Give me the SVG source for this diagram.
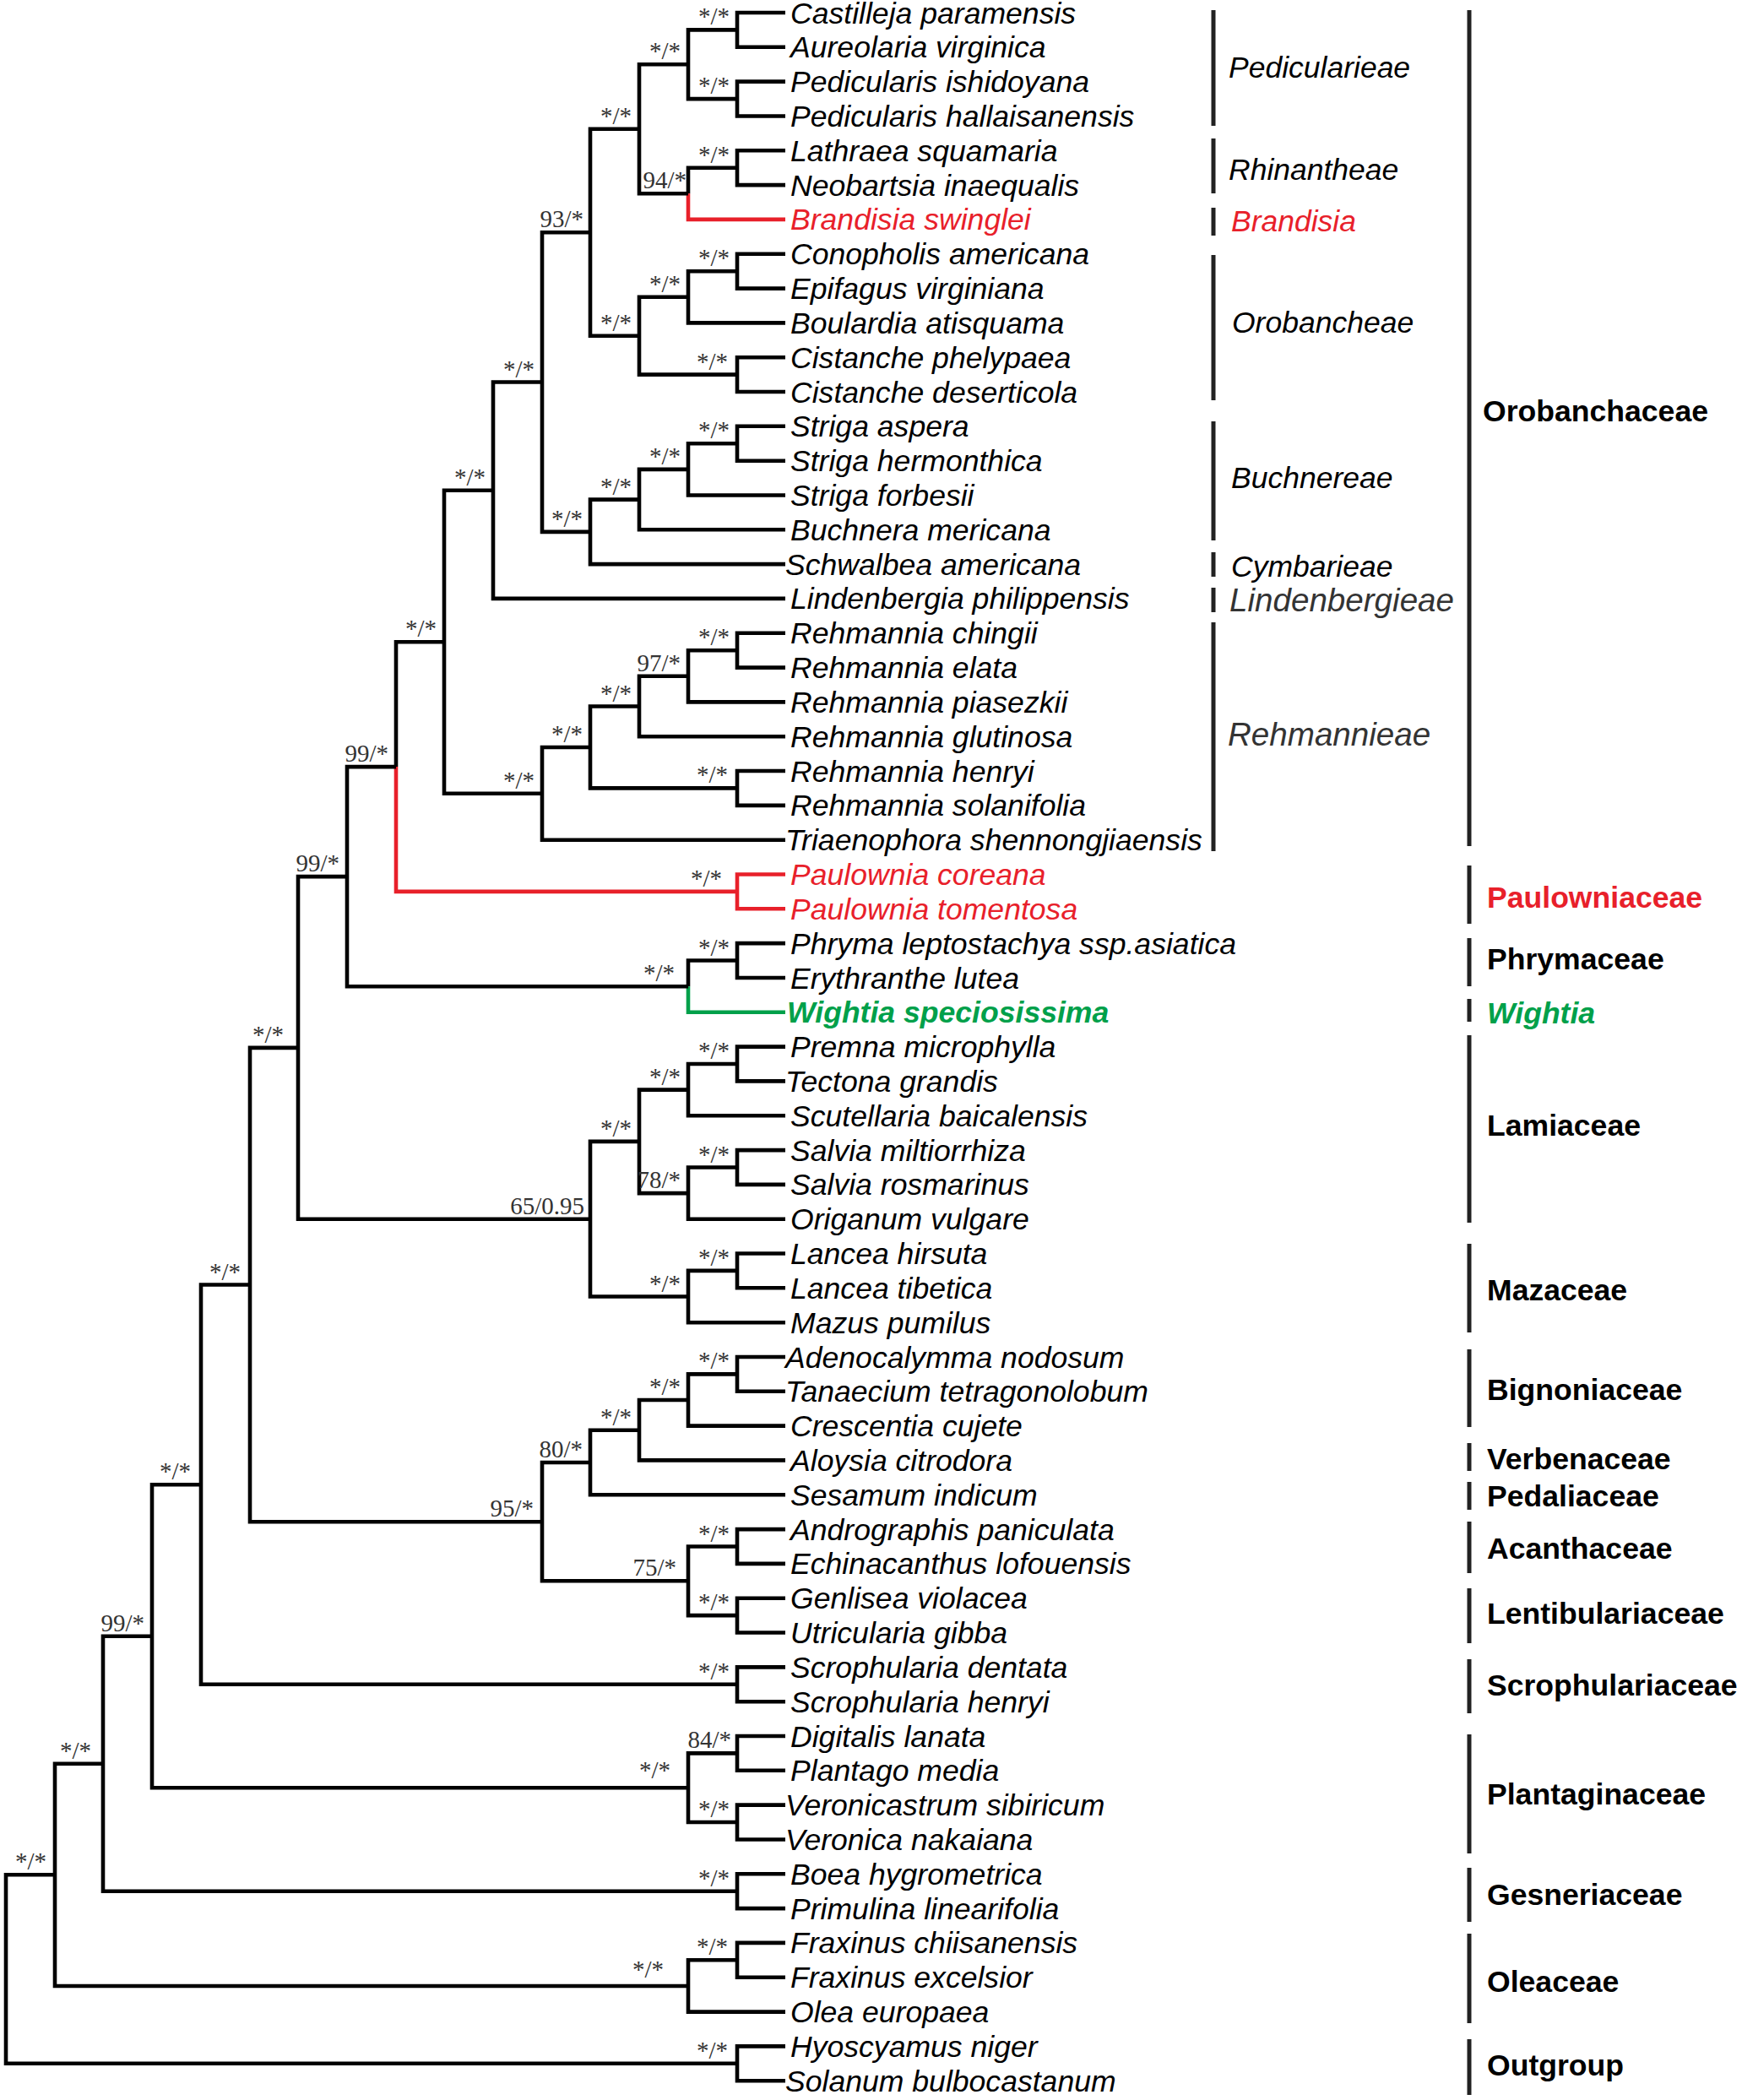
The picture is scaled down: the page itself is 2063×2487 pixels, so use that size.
<svg xmlns="http://www.w3.org/2000/svg" width="2063" height="2487" viewBox="0 0 2063 2487">
<style>
.br{fill:none;stroke:#000;stroke-width:4.6;stroke-linejoin:miter;stroke-linecap:butt}
.red{stroke:#e8202a}
.grn{stroke:#00a04a}
.lf{font-family:"Liberation Sans",Arial,sans-serif;font-style:italic;font-size:35.6px;fill:#000}
.lf.r{fill:#e8202a}
.lf.g{fill:#00a04a;font-weight:bold}
.sp{font-family:"Liberation Serif","Times New Roman",serif;font-size:29px;fill:#333;text-anchor:end}
.bar{fill:#222}
.tr{font-family:"Liberation Sans",Arial,sans-serif;font-style:italic;font-size:35.5px;fill:#000}
.tr.gy{fill:#333;font-size:38.6px}
.fm{font-family:"Liberation Sans",Arial,sans-serif;font-weight:bold;font-size:35.6px;fill:#000}
</style>
<rect width="2063" height="2487" fill="#fff"/>
<g id="connectors">
<path class="br" d="M930 15 H873 V55.8 H930"/>
<path class="br" d="M930 96.6 H873 V137.5 H930"/>
<path class="br" d="M873 35.4 H815 V117.1 H873"/>
<path class="br" d="M930 178.3 H873 V219.1 H930"/>
<path class="br" d="M873 198.7 H815 V229.3"/>
<path class="br red" d="M815 229.3 V259.9 H930"/>
<path class="br" d="M815 76.2 H757 V229.3 H815"/>
<path class="br" d="M930 300.7 H873 V341.6 H930"/>
<path class="br" d="M873 321.2 H815 V382.4 H930"/>
<path class="br" d="M930 423.2 H873 V464 H930"/>
<path class="br" d="M815 351.8 H757 V443.6 H873"/>
<path class="br" d="M757 152.8 H699 V397.7 H757"/>
<path class="br" d="M930 504.8 H873 V545.7 H930"/>
<path class="br" d="M873 525.3 H815 V586.5 H930"/>
<path class="br" d="M815 555.9 H757 V627.3 H930"/>
<path class="br" d="M757 591.6 H699 V668.1 H930"/>
<path class="br" d="M699 275.2 H642 V629.9 H699"/>
<path class="br" d="M642 452.5 H584 V708.9 H930"/>
<path class="br" d="M930 749.8 H873 V790.6 H930"/>
<path class="br" d="M873 770.2 H815 V831.4 H930"/>
<path class="br" d="M815 800.8 H757 V872.2 H930"/>
<path class="br" d="M930 913 H873 V953.9 H930"/>
<path class="br" d="M757 836.5 H699 V933.4 H873"/>
<path class="br" d="M699 885 H642 V994.7 H930"/>
<path class="br" d="M584 580.7 H526 V939.8 H642"/>
<path class="br red" d="M930 1035.5 H873 V1076.3 H930"/>
<path class="br" d="M526 760.3 H469 V908.1"/>
<path class="br red" d="M469 908.1 V1055.9 H873"/>
<path class="br" d="M930 1117.1 H873 V1158 H930"/>
<path class="br" d="M873 1137.5 H815 V1168.2"/>
<path class="br grn" d="M815 1168.2 V1198.8 H930"/>
<path class="br" d="M469 908.1 H411 V1168.2 H815"/>
<path class="br" d="M930 1239.6 H873 V1280.4 H930"/>
<path class="br" d="M873 1260 H815 V1321.2 H930"/>
<path class="br" d="M930 1362.1 H873 V1402.9 H930"/>
<path class="br" d="M873 1382.5 H815 V1443.7 H930"/>
<path class="br" d="M815 1290.6 H757 V1413.1 H815"/>
<path class="br" d="M930 1484.5 H873 V1525.3 H930"/>
<path class="br" d="M873 1504.9 H815 V1566.2 H930"/>
<path class="br" d="M757 1351.9 H699 V1535.5 H815"/>
<path class="br" d="M411 1038.1 H353 V1443.7 H699"/>
<path class="br" d="M930 1607 H873 V1647.8 H930"/>
<path class="br" d="M873 1627.4 H815 V1688.6 H930"/>
<path class="br" d="M815 1658 H757 V1729.4 H930"/>
<path class="br" d="M757 1693.7 H699 V1770.3 H930"/>
<path class="br" d="M930 1811.1 H873 V1851.9 H930"/>
<path class="br" d="M930 1892.7 H873 V1933.5 H930"/>
<path class="br" d="M873 1831.5 H815 V1913.1 H873"/>
<path class="br" d="M699 1732 H642 V1872.3 H815"/>
<path class="br" d="M353 1240.9 H296 V1802.2 H642"/>
<path class="br" d="M930 1974.4 H873 V2015.2 H930"/>
<path class="br" d="M296 1521.5 H238 V1994.8 H873"/>
<path class="br" d="M930 2056 H873 V2096.8 H930"/>
<path class="br" d="M930 2137.6 H873 V2178.5 H930"/>
<path class="br" d="M873 2076.4 H815 V2158 H873"/>
<path class="br" d="M238 1758.2 H180 V2117.2 H815"/>
<path class="br" d="M930 2219.3 H873 V2260.1 H930"/>
<path class="br" d="M180 1937.7 H122 V2239.7 H873"/>
<path class="br" d="M930 2300.9 H873 V2341.7 H930"/>
<path class="br" d="M873 2321.3 H815 V2382.6 H930"/>
<path class="br" d="M122 2088.7 H65 V2352 H815"/>
<path class="br" d="M930 2423.4 H873 V2464.2 H930"/>
<path class="br" d="M65 2220.3 H7 V2443.8 H873"/>
</g>
<g id="support">
<text class="sp" x="864" y="29.4">*/*</text>
<text class="sp" x="864" y="111.1">*/*</text>
<text class="sp" x="806" y="70.2">*/*</text>
<text class="sp" x="864" y="192.7">*/*</text>
<text class="sp" x="813" y="223.3">94/*</text>
<text class="sp" x="748" y="146.8">*/*</text>
<text class="sp" x="864" y="315.2">*/*</text>
<text class="sp" x="806" y="345.8">*/*</text>
<text class="sp" x="862" y="437.6">*/*</text>
<text class="sp" x="748" y="391.7">*/*</text>
<text class="sp" x="691" y="269.2">93/*</text>
<text class="sp" x="864" y="519.3">*/*</text>
<text class="sp" x="806" y="549.9">*/*</text>
<text class="sp" x="748" y="585.6">*/*</text>
<text class="sp" x="690" y="623.9">*/*</text>
<text class="sp" x="633" y="446.5">*/*</text>
<text class="sp" x="575" y="574.7">*/*</text>
<text class="sp" x="864" y="764.2">*/*</text>
<text class="sp" x="806" y="794.8">97/*</text>
<text class="sp" x="748" y="830.5">*/*</text>
<text class="sp" x="862" y="927.4">*/*</text>
<text class="sp" x="690" y="879">*/*</text>
<text class="sp" x="633" y="933.8">*/*</text>
<text class="sp" x="517" y="754.3">*/*</text>
<text class="sp" x="855" y="1049.9">*/*</text>
<text class="sp" x="460" y="902.1">99/*</text>
<text class="sp" x="864" y="1131.5">*/*</text>
<text class="sp" x="799" y="1162.2">*/*</text>
<text class="sp" x="402" y="1032.1">99/*</text>
<text class="sp" x="864" y="1254">*/*</text>
<text class="sp" x="806" y="1284.6">*/*</text>
<text class="sp" x="864" y="1376.5">*/*</text>
<text class="sp" x="806" y="1407.1">78/*</text>
<text class="sp" x="748" y="1345.9">*/*</text>
<text class="sp" x="864" y="1498.9">*/*</text>
<text class="sp" x="806" y="1529.5">*/*</text>
<text class="sp" x="692" y="1437.7">65/0.95</text>
<text class="sp" x="336" y="1234.9">*/*</text>
<text class="sp" x="864" y="1621.4">*/*</text>
<text class="sp" x="806" y="1652">*/*</text>
<text class="sp" x="748" y="1687.7">*/*</text>
<text class="sp" x="690" y="1726">80/*</text>
<text class="sp" x="864" y="1825.5">*/*</text>
<text class="sp" x="864" y="1907.1">*/*</text>
<text class="sp" x="801" y="1866.3">75/*</text>
<text class="sp" x="632" y="1796.2">95/*</text>
<text class="sp" x="285" y="1515.5">*/*</text>
<text class="sp" x="864" y="1988.8">*/*</text>
<text class="sp" x="226" y="1752.2">*/*</text>
<text class="sp" x="866" y="2070.4">84/*</text>
<text class="sp" x="864" y="2152">*/*</text>
<text class="sp" x="794" y="2106">*/*</text>
<text class="sp" x="171" y="1931.7">99/*</text>
<text class="sp" x="864" y="2233.7">*/*</text>
<text class="sp" x="108" y="2082.7">*/*</text>
<text class="sp" x="862" y="2315.3">*/*</text>
<text class="sp" x="786" y="2342">*/*</text>
<text class="sp" x="55" y="2214.3">*/*</text>
<text class="sp" x="862" y="2437.8">*/*</text>
</g>
<g id="leaves">
<g id="leaf-01"><text class="lf" x="936" y="27.5">Castilleja paramensis</text></g>
<g id="leaf-02"><text class="lf" x="936" y="68.3">Aureolaria virginica</text></g>
<g id="leaf-03"><text class="lf" x="936" y="109.1">Pedicularis ishidoyana</text></g>
<g id="leaf-04"><text class="lf" x="936" y="150">Pedicularis hallaisanensis</text></g>
<g id="leaf-05"><text class="lf" x="936" y="190.8">Lathraea squamaria</text></g>
<g id="leaf-06"><text class="lf" x="936" y="231.6">Neobartsia inaequalis</text></g>
<g id="leaf-07"><text class="lf r" x="936" y="272.4">Brandisia swinglei</text></g>
<g id="leaf-08"><text class="lf" x="936" y="313.2">Conopholis americana</text></g>
<g id="leaf-09"><text class="lf" x="936" y="354.1">Epifagus virginiana</text></g>
<g id="leaf-10"><text class="lf" x="936" y="394.9">Boulardia atisquama</text></g>
<g id="leaf-11"><text class="lf" x="936" y="435.7">Cistanche phelypaea</text></g>
<g id="leaf-12"><text class="lf" x="936" y="476.5">Cistanche deserticola</text></g>
<g id="leaf-13"><text class="lf" x="936" y="517.3">Striga aspera</text></g>
<g id="leaf-14"><text class="lf" x="936" y="558.2">Striga hermonthica</text></g>
<g id="leaf-15"><text class="lf" x="936" y="599">Striga forbesii</text></g>
<g id="leaf-16"><text class="lf" x="936" y="639.8">Buchnera mericana</text></g>
<g id="leaf-17"><text class="lf" x="930" y="680.6">Schwalbea americana</text></g>
<g id="leaf-18"><text class="lf" x="936" y="721.4">Lindenbergia philippensis</text></g>
<g id="leaf-19"><text class="lf" x="936" y="762.3">Rehmannia chingii</text></g>
<g id="leaf-20"><text class="lf" x="936" y="803.1">Rehmannia elata</text></g>
<g id="leaf-21"><text class="lf" x="936" y="843.9">Rehmannia piasezkii</text></g>
<g id="leaf-22"><text class="lf" x="936" y="884.7">Rehmannia glutinosa</text></g>
<g id="leaf-23"><text class="lf" x="936" y="925.5">Rehmannia henryi</text></g>
<g id="leaf-24"><text class="lf" x="936" y="966.4">Rehmannia solanifolia</text></g>
<g id="leaf-25"><text class="lf" x="930" y="1007.2">Triaenophora shennongjiaensis</text></g>
<g id="leaf-26"><text class="lf r" x="936" y="1048">Paulownia coreana</text></g>
<g id="leaf-27"><text class="lf r" x="936" y="1088.8">Paulownia tomentosa</text></g>
<g id="leaf-28"><text class="lf" x="936" y="1129.6">Phryma leptostachya ssp.asiatica</text></g>
<g id="leaf-29"><text class="lf" x="936" y="1170.5">Erythranthe lutea</text></g>
<g id="leaf-30"><text class="lf g" x="932" y="1211.3">Wightia speciosissima</text></g>
<g id="leaf-31"><text class="lf" x="936" y="1252.1">Premna microphylla</text></g>
<g id="leaf-32"><text class="lf" x="930" y="1292.9">Tectona grandis</text></g>
<g id="leaf-33"><text class="lf" x="936" y="1333.7">Scutellaria baicalensis</text></g>
<g id="leaf-34"><text class="lf" x="936" y="1374.6">Salvia miltiorrhiza</text></g>
<g id="leaf-35"><text class="lf" x="936" y="1415.4">Salvia rosmarinus</text></g>
<g id="leaf-36"><text class="lf" x="936" y="1456.2">Origanum vulgare</text></g>
<g id="leaf-37"><text class="lf" x="936" y="1497">Lancea hirsuta</text></g>
<g id="leaf-38"><text class="lf" x="936" y="1537.8">Lancea tibetica</text></g>
<g id="leaf-39"><text class="lf" x="936" y="1578.7">Mazus pumilus</text></g>
<g id="leaf-40"><text class="lf" x="930" y="1619.5">Adenocalymma nodosum</text></g>
<g id="leaf-41"><text class="lf" x="930" y="1660.3">Tanaecium tetragonolobum</text></g>
<g id="leaf-42"><text class="lf" x="936" y="1701.1">Crescentia cujete</text></g>
<g id="leaf-43"><text class="lf" x="936" y="1741.9">Aloysia citrodora</text></g>
<g id="leaf-44"><text class="lf" x="936" y="1782.8">Sesamum indicum</text></g>
<g id="leaf-45"><text class="lf" x="936" y="1823.6">Andrographis paniculata</text></g>
<g id="leaf-46"><text class="lf" x="936" y="1864.4">Echinacanthus lofouensis</text></g>
<g id="leaf-47"><text class="lf" x="936" y="1905.2">Genlisea violacea</text></g>
<g id="leaf-48"><text class="lf" x="936" y="1946">Utricularia gibba</text></g>
<g id="leaf-49"><text class="lf" x="936" y="1986.9">Scrophularia dentata</text></g>
<g id="leaf-50"><text class="lf" x="936" y="2027.7">Scrophularia henryi</text></g>
<g id="leaf-51"><text class="lf" x="936" y="2068.5">Digitalis lanata</text></g>
<g id="leaf-52"><text class="lf" x="936" y="2109.3">Plantago media</text></g>
<g id="leaf-53"><text class="lf" x="930" y="2150.1">Veronicastrum sibiricum</text></g>
<g id="leaf-54"><text class="lf" x="930" y="2191">Veronica nakaiana</text></g>
<g id="leaf-55"><text class="lf" x="936" y="2231.8">Boea hygrometrica</text></g>
<g id="leaf-56"><text class="lf" x="936" y="2272.6">Primulina linearifolia</text></g>
<g id="leaf-57"><text class="lf" x="936" y="2313.4">Fraxinus chiisanensis</text></g>
<g id="leaf-58"><text class="lf" x="936" y="2354.2">Fraxinus excelsior</text></g>
<g id="leaf-59"><text class="lf" x="936" y="2395.1">Olea europaea</text></g>
<g id="leaf-60"><text class="lf" x="936" y="2435.9">Hyoscyamus niger</text></g>
<g id="leaf-61"><text class="lf" x="930" y="2476.7">Solanum bulbocastanum</text></g>
</g>
<g id="tribes">
<g id="tribe-pedicularieae"><rect class="bar" x="1434.5" y="12" width="5" height="137"/><text class="tr" x="1455" y="92">Pedicularieae</text></g>
<g id="tribe-rhinantheae"><rect class="bar" x="1434.5" y="164" width="5" height="65"/><text class="tr" x="1455" y="213">Rhinantheae</text></g>
<g id="tribe-brandisia"><rect class="bar" x="1434.5" y="246" width="5" height="33"/><text class="tr" x="1458" y="274" style="fill:#e8202a">Brandisia</text></g>
<g id="tribe-orobancheae"><rect class="bar" x="1434.5" y="302" width="5" height="172"/><text class="tr" x="1459" y="394">Orobancheae</text></g>
<g id="tribe-buchnereae"><rect class="bar" x="1434.5" y="499" width="5" height="141"/><text class="tr" x="1458" y="578">Buchnereae</text></g>
<g id="tribe-cymbarieae"><rect class="bar" x="1434.5" y="654" width="5" height="29"/><text class="tr" x="1458" y="683">Cymbarieae</text></g>
<g id="tribe-lindenbergieae"><rect class="bar" x="1434.5" y="696" width="5" height="29"/><text class="tr gy" x="1456" y="724">Lindenbergieae</text></g>
<g id="tribe-rehmannieae"><rect class="bar" x="1434.5" y="737" width="5" height="271"/><text class="tr gy" x="1454" y="883">Rehmannieae</text></g>
</g>
<g id="families">
<g id="fam-orobanchaceae"><rect class="bar" x="1737.5" y="12" width="5" height="990"/><text class="fm" x="1756" y="499">Orobanchaceae</text></g>
<g id="fam-paulowniaceae"><rect class="bar" x="1737.5" y="1025" width="5" height="69"/><text class="fm" x="1761" y="1075" style="fill:#e8202a">Paulowniaceae</text></g>
<g id="fam-phrymaceae"><rect class="bar" x="1737.5" y="1111" width="5" height="57"/><text class="fm" x="1761" y="1148">Phrymaceae</text></g>
<g id="fam-wightia"><rect class="bar" x="1737.5" y="1183" width="5" height="27"/><text class="fm" x="1761" y="1212" style="fill:#00a04a;font-style:italic">Wightia</text></g>
<g id="fam-lamiaceae"><rect class="bar" x="1737.5" y="1226" width="5" height="222"/><text class="fm" x="1761" y="1345">Lamiaceae</text></g>
<g id="fam-mazaceae"><rect class="bar" x="1737.5" y="1473" width="5" height="105"/><text class="fm" x="1761" y="1540">Mazaceae</text></g>
<g id="fam-bignoniaceae"><rect class="bar" x="1737.5" y="1598" width="5" height="92"/><text class="fm" x="1761" y="1658">Bignoniaceae</text></g>
<g id="fam-verbenaceae"><rect class="bar" x="1737.5" y="1709" width="5" height="33"/><text class="fm" x="1761" y="1740">Verbenaceae</text></g>
<g id="fam-pedaliaceae"><rect class="bar" x="1737.5" y="1755" width="5" height="33"/><text class="fm" x="1761" y="1784">Pedaliaceae</text></g>
<g id="fam-acanthaceae"><rect class="bar" x="1737.5" y="1802" width="5" height="61"/><text class="fm" x="1761" y="1846">Acanthaceae</text></g>
<g id="fam-lentibulariaceae"><rect class="bar" x="1737.5" y="1881" width="5" height="65"/><text class="fm" x="1761" y="1923">Lentibulariaceae</text></g>
<g id="fam-scrophulariaceae"><rect class="bar" x="1737.5" y="1965" width="5" height="64"/><text class="fm" x="1761" y="2008">Scrophulariaceae</text></g>
<g id="fam-plantaginaceae"><rect class="bar" x="1737.5" y="2054" width="5" height="141"/><text class="fm" x="1761" y="2137">Plantaginaceae</text></g>
<g id="fam-gesneriaceae"><rect class="bar" x="1737.5" y="2212" width="5" height="64"/><text class="fm" x="1761" y="2256">Gesneriaceae</text></g>
<g id="fam-oleaceae"><rect class="bar" x="1737.5" y="2290" width="5" height="106"/><text class="fm" x="1761" y="2359">Oleaceae</text></g>
<g id="fam-outgroup"><rect class="bar" x="1737.5" y="2415" width="5" height="66"/><text class="fm" x="1761" y="2458">Outgroup</text></g>
</g>
</svg>
